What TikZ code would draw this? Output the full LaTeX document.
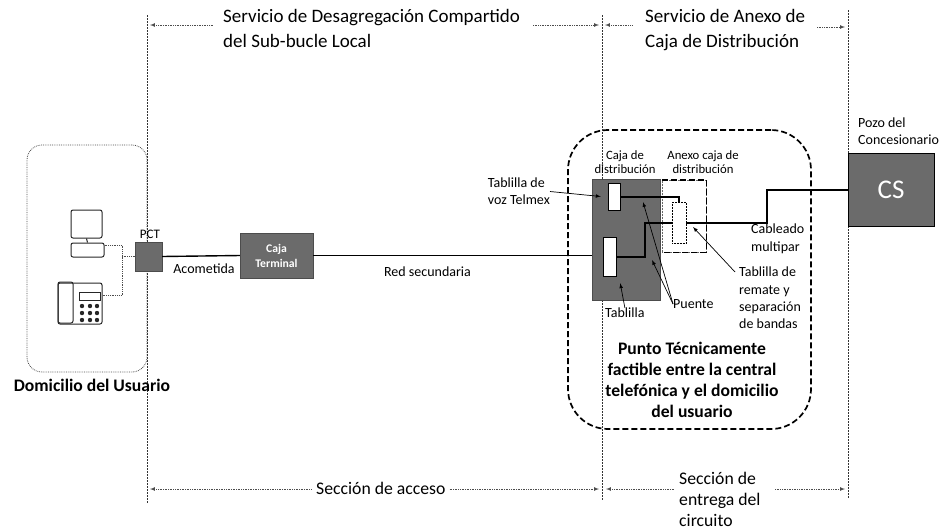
\documentclass[tikz,border=0pt]{standalone}
\usepackage{fontspec}
\setmainfont{Carlito}
\usetikzlibrary{arrows}
\usetikzlibrary{shapes.misc}

\tikzset{
    grande/.style={inner sep=0pt,align=left,font=\fontsize{19}{25}\selectfont},
    seccion/.style={inner sep=0pt,align=left,font=\fontsize{17.7}{21}\selectfont},
    chico/.style={inner sep=0pt,align=left,font=\fontsize{14}{17.3}\selectfont},
    mini/.style={inner sep=0pt,align=center,font=\fontsize{12.7}{14}\selectfont},
    negrita/.style={inner sep=0pt,align=center,font=\fontsize{17.6}{21}\selectfont\bfseries},
    gris/.style={draw=black!70,fill=black!58,inner sep=0pt},
    tablilla/.style={draw=black,fill=white,line width=.5pt,inner sep=0pt},
    limite/.style={black!80,line width=.9pt,dash pattern=on 2pt off 1pt},
    cota/.style={black!70,line width=.7pt,densely dotted,>=latex},
    cable/.style={black,line width=2pt},
    linea/.style={black,line width=1pt},
    guia/.style={black,line width=.7pt,-latex},
    punteado/.style={black!70,line width=.8pt,densely dotted},
    icono/.style={draw=black!85,line width=1pt,inner sep=0pt,rounded corners=2pt}
}

\begin{document}
\begin{tikzpicture}[x=1pt,y=-1pt]
    \useasboundingbox (0,0) rectangle (941,531);

    % domicilio y punto tecnico
    \node[draw=black!70,line width=.8pt,densely dotted,rounded corners=15,minimum width=120,minimum height=227,inner sep=0pt] (domicilio) at (87,258.5) {};
    \node[draw=black,line width=1.7pt,dash pattern=on 6pt off 3pt,rounded corners=40,minimum width=243,minimum height=299,inner sep=0pt] (punto) at (689.5,279.5) {};

    % limites verticales
    \coordinate (a1) at (147,15);
    \coordinate (a2) at (147,503);
    \coordinate (b1) at (602,15);
    \coordinate (b2) at (602,500);
    \coordinate (c1) at (848,10);
    \coordinate (c2) at (848,498);
    \draw[limite] (a1) -- (a2);
    \draw[limite] (b1) -- (b2);
    \draw[limite] (c1) -- (c2);

    % textos de arriba y abajo
    \node[grande,anchor=north west] (desagregacion) at (223,9) {Servicio de Desagregación Compartido\\del Sub-bucle Local};
    \node[grande,anchor=north west] (anexo) at (645,9) {Servicio de Anexo de\\Caja de Distribución};
    \node[seccion,anchor=west] (acceso) at (316,488) {Sección de acceso};
    \node[seccion,anchor=north west] (entrega) at (679,472) {Sección de\\entrega del\\circuito};

    \coordinate (s1) at (150,25);
    \coordinate (s2) at (213,25);
    \coordinate (s3) at (533,25);
    \coordinate (s4) at (599,25);
    \coordinate (s5) at (605,25);
    \coordinate (s6) at (632,25);
    \coordinate (s7) at (817,27);
    \coordinate (s8) at (845,27);
    \draw[cota,<-] (s1) -- (s2);
    \draw[cota,->] (s3) -- (s4);
    \draw[cota,<-] (s5) -- (s6);
    \draw[cota,->] (s7) -- (s8);

    \coordinate (e1) at (150,489);
    \coordinate (e2) at (599,489);
    \coordinate (e3) at (606,489);
    \coordinate (e4) at (675,489);
    \coordinate (e5) at (775,489);
    \coordinate (e6) at (845,489);
    \draw[cota,<-] (e1) -- ([xshift=-4pt]acceso.west |- e1);
    \draw[cota,->] ([xshift=4pt]acceso.east |- e2) -- (e2);
    \draw[cota,<-] (e3) -- (e4);
    \draw[cota,->] (e5) -- (e6);

    % equipos del usuario
    \node[icono,minimum width=31,minimum height=28] (monitor) at (86.5,224) {};
    \node[icono,minimum width=33,minimum height=14] (teclado) at (87.5,250) {};
    \draw[icono] (monitor.south) -- (teclado.north);
    \node[icono,minimum width=44,minimum height=41] (telefono) at (80,303.5) {};
    \node[icono,minimum width=15,minimum height=41] (auricular) at (65.5,302.5) {};
    \node[icono,minimum width=21,minimum height=8,rounded corners=0pt] (pantalla) at (89.5,296) {};
    \foreach \px in {82,90,97}
        \foreach \py in {306,313,320}
            \fill[black!85] (\px,\py) circle (2.2);

    \node[gris,minimum width=27,minimum height=29] (pct) at (148.5,256.5) {};
    \node[mini,font=\fontsize{13}{14}\selectfont] (pctlabel) at (150,234) {PCT};
    \coordinate (union) at (122,256.5);
    \draw[punteado] ([yshift=5pt]teclado.east) -| (union) -- (pct.west);
    \draw[punteado] ([yshift=8pt]telefono.east) -| (union);

    \node[gris,minimum width=73,minimum height=45] (terminal) at (276.5,255.5) {};
    \node[inner sep=0pt,align=center,white,font=\fontsize{11.7}{15}\selectfont\bfseries] (terminallabel) at (terminal.center) {Caja\\Terminal};
    \node[gris,minimum width=68,minimum height=121] (caja) at (626,239.5) {};
    \draw[linea,line width=1.4pt] (pct.east) -- (terminal.west);
    \draw[linea] (terminal.east) -- (terminal.east -| caja.west);

    \node[chico,anchor=center] (acometida) at (204,269) {Acometida};
    \node[chico,anchor=center] (secundaria) at (427.5,272) {Red secundaria};
    \node[negrita,anchor=center] (domiciliolabel) at (92,385) {Domicilio del Usuario};

    % caja de distribucion y anexo
    \node[draw=black!60,line width=.5pt,densely dotted,minimum width=44,minimum height=72,inner sep=0pt] (anexocaja) at (684,216) {};
    \draw[black,line width=1.5pt,dash pattern=on 6pt off 3pt] (anexocaja.north west) -| (anexocaja.south east) -- (anexocaja.south west);
    \node[tablilla,minimum width=12,minimum height=27] (voz) at (614,196.5) {};
    \node[tablilla,minimum width=13,minimum height=39] (inferior) at (609.5,256.5) {};
    \node[tablilla,densely dotted,minimum width=14,minimum height=41] (remate) at (679,222.5) {};

    \coordinate (puente) at (645,222.5);
    \coordinate (subida) at (767,189.5);
    \node[gris,chamfered rectangle,chamfered rectangle corners={north east,south west},chamfered rectangle xsep=13pt,chamfered rectangle ysep=13pt,draw=black,minimum width=86,minimum height=73] (cs) at (891,189.5) {};
    \node[inner sep=0pt,white,font=\fontsize{27}{29}\selectfont] (cslabel) at (cs.center) {CS};
    \draw[cable] (voz.east) -| (remate.north);
    \draw[cable] (inferior.east) -| (puente) -- (remate.west);
    \draw[cable] (remate.east) -| (subida) -- (cs.west);

    % etiquetas
    \node[mini] (cajalabel) at (625,162) {Caja de\\distribución};
    \node[mini] (anexolabel) at (703,162) {Anexo caja de\\distribución};
    \node[chico,anchor=east] (vozlabel) at (550,191.5) {Tablilla de\\voz Telmex};
    \node[chico,anchor=west] (pozo) at (858,131.5) {Pozo del\\Concesionario};
    \node[chico,font=\fontsize{14}{18}\selectfont,anchor=west] (cableado) at (751,239) {Cableado\\multipar};
    \node[chico,anchor=west] (puentelabel) at (673,304) {Puente};
    \node[chico,anchor=west] (tablillalabel) at (605,313) {Tablilla};
    \node[chico,anchor=north west] (rematelabel) at (739,267) {Tablilla de\\remate y\\separación\\de bandas};
    \node[negrita] (puntolabel) at (692,379.5) {Punto Técnicamente\\factible entre la central\\telefónica y el domicilio\\del usuario};

    % guias
    \draw[guia] (vozlabel.east) -- ([xshift=-7pt]voz.west);
    \draw[guia] (puentelabel.west) -- (643,202);
    \draw[guia] (puentelabel.west) -- (652,260);
    \draw[guia] (tablillalabel.north) -- ([xshift=4pt,yshift=-7pt]inferior.south east);
    \draw[guia] ([xshift=-4pt,yshift=-5pt]rematelabel.north west) -- (693,227);
\end{tikzpicture}
\end{document}
